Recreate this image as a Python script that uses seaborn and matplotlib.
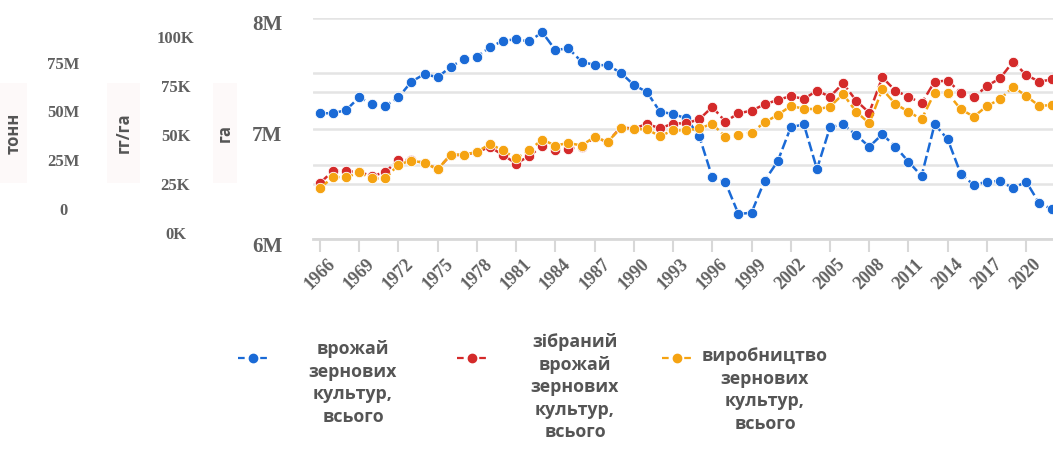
import matplotlib
matplotlib.use('Agg')
import matplotlib.pyplot as plt
from matplotlib.lines import Line2D
from matplotlib.patches import Rectangle
from matplotlib.transforms import ScaledTranslation
import pandas as pd
import seaborn as sns

# data (values in millions, read on the "га" scale)
years = list(range(1966, 2023))
yield_total = [7.138, 7.138, 7.167, 7.282, 7.222, 7.204, 7.282, 7.424, 7.493, 7.463,
               7.559, 7.626, 7.650, 7.735, 7.795, 7.807, 7.789, 7.871, 7.710, 7.726,
               7.605, 7.575, 7.572, 7.505, 7.394, 7.330, 7.152, 7.131, 7.092, 6.932,
               6.558, 6.513, 6.226, 6.238, 6.528, 6.703, 7.011, 7.038, 6.633, 7.011,
               7.038, 6.941, 6.835, 6.948, 6.835, 6.700, 6.570, 7.038, 6.902, 6.588,
               6.489, 6.519, 6.525, 6.459, 6.519, 6.323, 6.269]
harvested = [6.507, 6.615, 6.615, 6.606, 6.570, 6.606, 6.715, 6.715, 6.688, 6.633,
             6.760, 6.760, 6.787, 6.833, 6.760, 6.683, 6.751, 6.842, 6.805, 6.819,
             6.830, 6.919, 6.880, 7.009, 7.000, 7.041, 7.002, 7.045, 7.047, 7.083,
             7.195, 7.062, 7.138, 7.161, 7.219, 7.258, 7.294, 7.267, 7.342, 7.288,
             7.409, 7.252, 7.143, 7.463, 7.342, 7.288, 7.228, 7.424, 7.433, 7.324,
             7.282, 7.385, 7.454, 7.605, 7.484, 7.424, 7.445]
production = [6.459, 6.561, 6.558, 6.602, 6.548, 6.548, 6.674, 6.710, 6.688, 6.631,
              6.763, 6.763, 6.787, 6.860, 6.801, 6.729, 6.805, 6.899, 6.846, 6.869,
              6.846, 6.923, 6.878, 7.006, 6.995, 6.993, 6.930, 6.984, 6.982, 7.002,
              7.041, 6.926, 6.941, 6.962, 7.056, 7.122, 7.204, 7.179, 7.174, 7.197,
              7.312, 7.152, 7.047, 7.355, 7.222, 7.152, 7.083, 7.324, 7.319, 7.174,
              7.107, 7.204, 7.264, 7.378, 7.294, 7.204, 7.213]

series_labels = ['врожай\nзернових\nкультур,\nвсього',
                 'зібраний\nврожай\nзернових\nкультур,\nвсього',
                 'виробництво\nзернових\nкультур,\nвсього']
colors = ['#1a6ad6', '#d42a2a', '#f5a312']

tick_years = list(range(1966, 2021, 3))
ga_ticks = [6, 7, 8]
ga_labels = ['6M', '7M', '8M']
kga_ticks = [0, 25, 50, 75, 100]
kga_labels = ['0K', '25K', '50K', '75K', '100K']
t_ticks = [0, 25, 50, 75]
t_labels = ['0', '25M', '50M', '75M']

df = pd.DataFrame({'year': years, 's0': yield_total, 's1': harvested, 's2': production})

sns.set_theme(style='white')
plt.rcParams['font.family'] = ['Open Sans', 'DejaVu Sans']

W, H = 1053, 451
fig = plt.figure(figsize=(W / 100, H / 100), dpi=100)
ax = fig.add_axes([313 / W, 1 - 239 / H, (W - 313) / W, (239 - 18) / H])

ls = (0, (4, 1.5))
for i, col in enumerate(['s0', 's1', 's2']):
    sns.lineplot(data=df, x='year', y=col, ax=ax, color=colors[i], marker='o',
                 markersize=7.5, markeredgecolor='white', markeredgewidth=0.6,
                 linewidth=1.8, linestyle=ls, zorder=3 + i)

ax.set_xlim(1965.47, 2022.05)
ax.set_ylim(6, 8)
ax.set_xlabel('')
ax.set_ylabel('')

serif = {'family': 'Liberation Serif', 'weight': 'bold', 'size': 12}
serif_big = {'family': 'Liberation Serif', 'weight': 'bold', 'size': 15}
grey = '#606060'

ax.set_xticks(tick_years)
ax.set_xticklabels([str(y) for y in tick_years], rotation=45, ha='center',
                   fontdict={'family': 'Liberation Serif', 'weight': 'bold', 'size': 13},
                   color=grey)
ax.tick_params(axis='x', length=9, width=1.5, color='#d8d8d8', pad=3, bottom=True)

ax.set_yticks(ga_ticks)
ax.set_yticks([6.5, 6.667, 7.333, 7.5], minor=True)
ax.set_yticklabels(ga_labels, fontdict=serif_big, color=grey, ha='center')
ax.tick_params(axis='y', which='both', length=0, pad=33)
shift = ScaledTranslation(0, -5 / 100, fig.dpi_scale_trans)
for lab in ax.get_yticklabels():
    lab.set_transform(lab.get_transform() + shift)
ax.grid(axis='y', which='both', color='#e4e4e4', linewidth=1.8)
ax.grid(axis='x', visible=False)
for s in ['top', 'right', 'left']:
    ax.spines[s].set_visible(False)
ax.spines['bottom'].set_color('#d8d8d8')
ax.spines['bottom'].set_linewidth(2)

# extra y scales on the left
ax_k = ax.twinx()
ax_k.set_ylim(-3.06, 109.7)
ax_k.set_yticks(kga_ticks)
ax_k.set_yticklabels(kga_labels, fontdict=serif, color=grey, ha='center')
ax_k.yaxis.tick_left()
ax_k.tick_params(axis='y', length=0, pad=99)

ax_t = ax.twinx()
ax_t.set_ylim(-15.4, 97.9)
ax_t.set_yticks(t_ticks)
ax_t.set_yticklabels(t_labels, fontdict=serif, color=grey, ha='center')
ax_t.yaxis.tick_left()
ax_t.tick_params(axis='y', length=0, pad=180)

for a in [ax_k, ax_t]:
    a.grid(False)
    for s in a.spines.values():
        s.set_visible(False)

# axis titles with faint boxes
for x0, w, txt in [(0, 27, 'тонн'), (107, 33, 'гг/га'), (213, 24, 'га')]:
    fig.patches.append(Rectangle((x0 / W, 1 - 183 / H), w / W, 100 / H,
                                 transform=fig.transFigure, facecolor='#fdf9f9',
                                 edgecolor='none', zorder=0))
    fig.text((x0 + w / 2) / W, 1 - 133 / H, txt, rotation=90, ha='center', va='center',
             fontsize=12, fontweight='bold', color='#555555')

# legend
handle_x = [238, 457, 662]
text_pos = [(353, 340), (575, 333), (765, 347)]
for i in range(3):
    h = Line2D([], [], color=colors[i], marker='o', markersize=6, linewidth=1.6,
               linestyle=(0, (3, 2)))
    fig.legend(handles=[h], labels=[''], loc='center left',
               bbox_to_anchor=(handle_x[i] / W, 1 - 360 / H), frameon=False,
               borderpad=0, borderaxespad=0, handlelength=1.75, handletextpad=0,
               fontsize=12.5)
    fig.text(text_pos[i][0] / W, 1 - text_pos[i][1] / H, series_labels[i],
             ha='center', va='top', multialignment='center', fontsize=12.8,
             fontweight='bold', color='#555555', linespacing=1.33)

fig.savefig('out.png', dpi=100)
